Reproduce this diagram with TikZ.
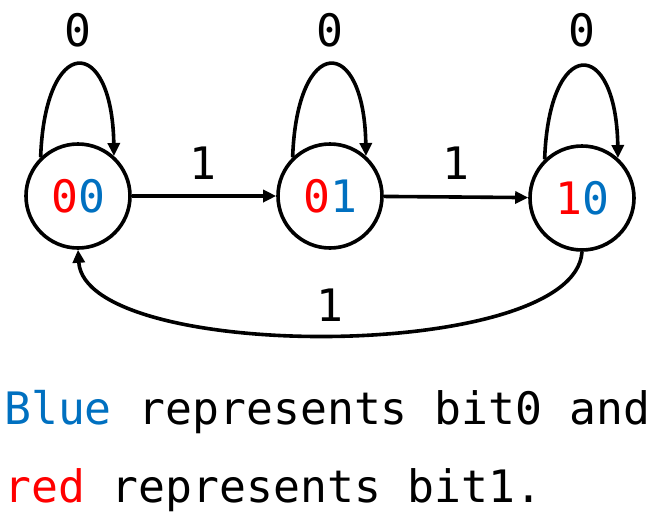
\documentclass[tikz,border=0pt]{standalone}
\usepackage{fontspec}
\setmonofont{DejaVu Sans Mono}
\usetikzlibrary{arrows.meta}
\definecolor{bitblue}{RGB}{0,112,192}
\definecolor{bitred}{RGB}{255,0,0}
\begin{document}
\begin{tikzpicture}[x=1pt,y=-1pt,
  every node/.style={font=\ttfamily\fontsize{44.7}{50}\selectfont},
  state/.style={circle,draw,line width=3.6pt,minimum size=104pt,inner sep=0pt},
  edge/.style={line width=3.6pt,-{Triangle[length=13pt,width=12pt]}},
  lab/.style={anchor=base,inner sep=0pt}]
\useasboundingbox (0,0) rectangle (655,528);
\node[state] (s00) at (78,196) {{\color{bitred}0}{\color{bitblue}0}};
\node[state] (s01) at (330,196) {{\color{bitred}0}{\color{bitblue}1}};
\node[state] (s10) at (582,198) {{\color{bitred}1}{\color{bitblue}0}};
% self loops
\draw[edge] (s00.134) .. controls (45,34) and (112,34) .. (s00.48);
\draw[edge] (s01.134) .. controls (297,34) and (364,34) .. (s01.48);
\draw[edge] (s10.134) .. controls (549,36) and (616,36) .. (s10.48);
\node[lab] (l0a) at (78,46) {0};
\node[lab] (l0b) at (330,46) {0};
\node[lab] (l0c) at (582,46) {0};
% transitions
\draw[edge] (s00) -- (s01);
\draw[edge] (s01) -- (s10);
\node[lab] (l1a) at (203,179) {1};
\node[lab] (l1b) at (456,179) {1};
\draw[edge] (s10.south) .. controls (575,363) and (85,363) .. (s00.south);
\node[lab] (l1c) at (330,321) {1};
% legend
\node[anchor=base west,inner sep=0pt] (t1) at (4,424) {{\color{bitblue}Blue} represents bit0 and};
\node[anchor=base west,inner sep=0pt] (t2) at (4,502) {{\color{bitred}red} represents bit1.};
\end{tikzpicture}
\end{document}
